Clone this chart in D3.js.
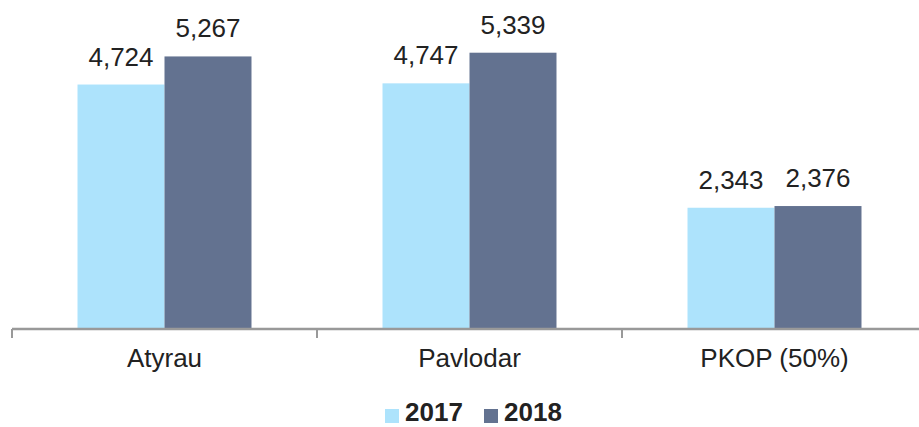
<!DOCTYPE html>
<html>
<head>
<meta charset="utf-8">
<script src="https://cdn.jsdelivr.net/npm/d3@7"></script>
<style>
  body { margin: 0; background: #fff; }
  text { font-family: Arial, "Liberation Sans", sans-serif; fill: #222; }
</style>
</head>
<body>
<div id="chart"></div>
<script>
// data
var categories = ["Atyrau", "Pavlodar", "PKOP (50%)"];
var years = ["2017", "2018"];
var values2017 = [4724, 4747, 2343];
var values2018 = [5267, 5339, 2376];
var colors = ["#ade3fc", "#637290"];

var width = 919, height = 427;

var svg = d3.select("#chart")
    .append("svg")
    .attr("width", width)
    .attr("height", height);

var rows = categories.map(function (c, i) {
    return { cat: c, vals: [values2017[i], values2018[i]] };
});

// scales
var x = d3.scaleBand()
    .domain(categories)
    .range([12, 927])
    .paddingInner(0)
    .paddingOuter(0);

var xInner = d3.scaleBand()
    .domain(years)
    .range([0, x.bandwidth()])
    .paddingOuter(0.753);

var y = d3.scaleLinear()
    .domain([0, 6000])
    .range([329, 18.5]);

// bars
var groups = svg.selectAll(".grp")
    .data(rows)
    .enter().append("g")
    .attr("class", "grp")
    .attr("transform", function (d) { return "translate(" + x(d.cat) + ",0)"; });

groups.selectAll("rect")
    .data(function (d) { return d.vals.map(function (v, j) { return { year: years[j], v: v, j: j }; }); })
    .enter().append("rect")
    .attr("x", function (d) { return xInner(d.year); })
    .attr("width", xInner.bandwidth())
    .attr("y", function (d) { return y(d.v); })
    .attr("height", function (d) { return y(0) - y(d.v); })
    .attr("fill", function (d) { return colors[d.j]; });

// value labels
groups.selectAll(".val")
    .data(function (d) { return d.vals.map(function (v, j) { return { year: years[j], v: v }; }); })
    .enter().append("text")
    .attr("class", "val")
    .attr("x", function (d) { return xInner(d.year) + xInner.bandwidth() / 2; })
    .attr("y", function (d) { return y(d.v) - 19; })
    .attr("text-anchor", "middle")
    .style("font-size", "26px")
    .text(function (d) { return d3.format(",")(d.v); });

// x axis
var axis = svg.append("g")
    .attr("transform", "translate(0," + y(0) + ")")
    .call(d3.axisBottom(x).tickSize(0).tickPadding(20));
axis.select(".domain").remove();
axis.selectAll("text")
    .style("font-size", "26px")
    .attr("fill", "#222");

axis.append("line")
    .attr("x1", 12).attr("x2", width)
    .attr("stroke", "#999").attr("stroke-width", 2.5);

// tick marks at band edges
axis.selectAll(".edge")
    .data(categories)
    .enter().append("line")
    .attr("class", "edge")
    .attr("x1", function (d) { return x(d); })
    .attr("x2", function (d) { return x(d); })
    .attr("y1", 0).attr("y2", 9)
    .attr("stroke", "#999").attr("stroke-width", 2);

// legend
var legendX = [385, 484];
var legend = svg.selectAll(".leg")
    .data(years)
    .enter().append("g")
    .attr("class", "leg")
    .attr("transform", function (d, i) { return "translate(" + legendX[i] + ",409)"; });

legend.append("rect")
    .attr("width", 14).attr("height", 14)
    .attr("fill", function (d, i) { return colors[i]; });

legend.append("text")
    .attr("x", 20).attr("y", 12)
    .style("font-size", "26px")
    .style("font-weight", "bold")
    .text(function (d) { return d; });
</script>
</body>
</html>
